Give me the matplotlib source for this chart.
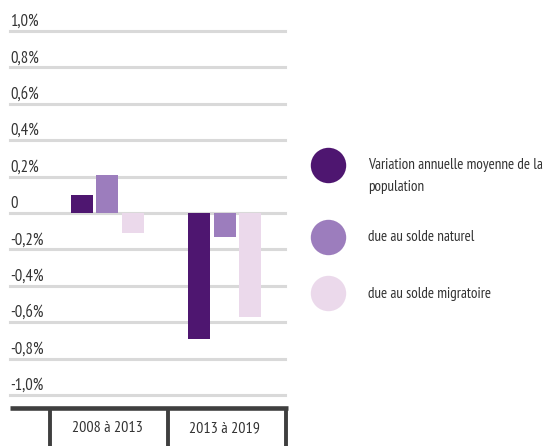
import matplotlib
matplotlib.use("Agg")
import matplotlib.pyplot as plt
from matplotlib.lines import Line2D
from matplotlib.transforms import blended_transform_factory
import numpy as np

# ---- data ----
categories = ["2008 à 2013", "2013 à 2019"]
variation_totale = [0.10, -0.69]
solde_naturel = [0.21, -0.13]
solde_migratoire = [-0.11, -0.57]
series_labels = ["Variation annuelle moyenne de la\npopulation",
                 "due au solde naturel",
                 "due au solde migratoire"]
yticks = [1.0, 0.8, 0.6, 0.4, 0.2, 0.0, -0.2, -0.4, -0.6, -0.8, -1.0]
ytick_labels = ["1,0%", "0,8%", "0,6%", "0,4%", "0,2%", "0",
                "-0,2%", "-0,4%", "-0,6%", "-0,8%", "-1,0%"]

colors = ["#4E1670", "#9C7DBD", "#EBD9EB"]
text_color = "#333333"
grid_color = "#D9D9D9"
table_color = "#3F3F3F"

plt.rcParams['font.family'] = ['PT Sans Narrow', 'DejaVu Sans']

W, H = 551, 446
fig = plt.figure(figsize=(W / 100, H / 100), dpi=100)

def fx(px):
    return px / W

def fy(py):
    return 1 - py / H

# axes: x from 10 to 285 px, y from 31 (1.0) to 395 (-1.0)
ax = fig.add_axes([fx(10), fy(395), fx(285) - fx(10), fy(31) - fy(395)])
ax.set_xlim(-0.833, 1.517)
ax.set_ylim(-1.0, 1.0)
ax.axis("off")

for v in yticks:
    ax.axhline(v, color=grid_color, lw=2.2, zorder=1, clip_on=False)

x = np.arange(len(categories))
bw = 0.188
offs = [-0.218, 0.0, 0.218]
for vals, off, c in zip([variation_totale, solde_naturel, solde_migratoire], offs, colors):
    ax.bar(x + off, vals, width=bw, color=c, zorder=2)

for v, lab in zip(yticks, ytick_labels):
    ax.annotate(lab, xy=(0, v), xycoords=("axes fraction", "data"),
                xytext=(0, 5), textcoords="offset pixels",
                ha="left", va="baseline", fontsize=12, color=text_color)

# table lines under the chart
fig.add_artist(Line2D([fx(10), fx(288)], [fy(408.3), fy(408.3)],
                      transform=fig.transFigure, color=table_color, lw=3.3,
                      solid_capstyle="butt"))
for px in [50.3, 168.3, 286]:
    fig.add_artist(Line2D([fx(px), fx(px)], [fy(408.3), fy(446)],
                          transform=fig.transFigure, color=table_color, lw=2.8,
                          solid_capstyle="butt"))

tr = blended_transform_factory(ax.transData, fig.transFigure)
for xi, cat in zip(x, categories):
    ax.text(xi, fy(432), cat, transform=tr, ha="center", va="baseline",
            fontsize=11.5, color=text_color)

# legend
leg_y = [165, 236.7, 293.3]
text_y = [191, 241, 298]   # baseline of the last line of each label
for cy, ty, c, lab in zip(leg_y, text_y, colors, series_labels):
    fig.add_artist(Line2D([fx(328)], [fy(cy)], transform=fig.transFigure,
                          marker="o", markersize=25.5, color=c, lw=0,
                          markeredgewidth=0))
    fig.text(fx(368), fy(ty), lab, ha="left", va="baseline",
             fontsize=10.9, color=text_color, linespacing=1.75)

fig.savefig("out.png", dpi=100)
